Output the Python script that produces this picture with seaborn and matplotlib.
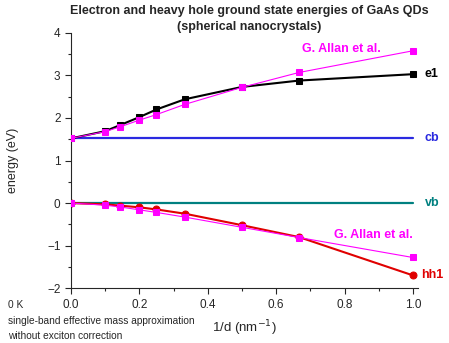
import numpy as np
import pandas as pd
import seaborn as sns
import matplotlib
matplotlib.use("Agg")
import matplotlib.pyplot as plt
from matplotlib.ticker import MultipleLocator

inv_d = [0.0, 0.1, 0.143, 0.2, 0.25, 0.333, 0.5, 0.667, 1.0]
e1 = [1.52, 1.69, 1.83, 2.02, 2.20, 2.44, 2.73, 2.88, 3.03]
allan_e = [1.52, 1.68, 1.79, 1.95, 2.08, 2.32, 2.72, 3.07, 3.58]
hh1 = [0.0, -0.03, -0.06, -0.10, -0.15, -0.25, -0.52, -0.80, -1.70]
allan_h = [0.0, -0.05, -0.09, -0.16, -0.22, -0.33, -0.57, -0.81, -1.28]
band_x = [0.0, 1.0]
cb = [1.52, 1.52]
vb = [0.0, 0.0]

sns.set_style("ticks")
plt.rcParams['font.family'] = ['Liberation Sans', 'DejaVu Sans']

fig = plt.figure(figsize=(4.49, 3.43), dpi=100)
ax = fig.add_axes([0.158, 0.16, 0.773, 0.744])

MAG = "#ff00ff"
sns.lineplot(x=band_x, y=cb, ax=ax, color="#2a2ae0", lw=1.6, zorder=1)
sns.lineplot(x=band_x, y=vb, ax=ax, color="#008080", lw=1.6, zorder=1)
sns.lineplot(x=inv_d, y=e1, ax=ax, color="black", lw=1.5, marker="s", ms=4.5,
             mec="black", zorder=2)
sns.lineplot(x=inv_d, y=hh1, ax=ax, color="#e00000", lw=1.5, marker="o", ms=5,
             mec="#e00000", zorder=2)
sns.lineplot(x=inv_d, y=allan_e, ax=ax, color=MAG, lw=0.8, marker="s", ms=4.5,
             mec=MAG, mfc=MAG, zorder=3)
sns.lineplot(x=inv_d, y=allan_h, ax=ax, color=MAG, lw=0.8, marker="s", ms=4.5,
             mec=MAG, mfc=MAG, zorder=3)

ax.set_xlim(-0.0, 1.015)
ax.set_ylim(-2, 4)
ax.xaxis.set_major_locator(MultipleLocator(0.2))
ax.xaxis.set_minor_locator(MultipleLocator(0.1))
ax.yaxis.set_major_locator(MultipleLocator(1))
ax.yaxis.set_minor_locator(MultipleLocator(0.5))
ax.xaxis.set_major_formatter(matplotlib.ticker.FormatStrFormatter('%.1f'))
ax.tick_params(which='major', length=4, width=0.8, labelsize=8.5, direction='out')
ax.tick_params(which='minor', length=2.5, width=0.8, direction='out')
sns.despine(ax=ax)
for s in ax.spines.values():
    s.set_linewidth(0.8)

ax.set_xlabel("1/d (nm$^{-1}$)", fontsize=9.5, labelpad=6)
ax.set_ylabel("energy (eV)", fontsize=9, labelpad=20)

fig.text(0.555, 0.985, "Electron and heavy hole ground state energies of GaAs QDs",
         ha='center', va='top', fontsize=9, fontweight='bold')
fig.text(0.555, 0.94, "(spherical nanocrystals)",
         ha='center', va='top', fontsize=9, fontweight='bold')

ax.text(0.905, 3.62, "G. Allan et al.", color=MAG, fontsize=9, fontweight='bold', ha='right', va='center')
ax.text(1.035, 3.03, "e1", color="black", fontsize=9, fontweight='bold', ha='left', va='center', clip_on=False)
ax.text(1.035, 1.52, "cb", color="#2a2ae0", fontsize=9, fontweight='bold', ha='left', va='center', clip_on=False)
ax.text(1.035, 0.0, "vb", color="#008080", fontsize=9, fontweight='bold', ha='left', va='center', clip_on=False)
ax.text(1.0, -0.75, "G. Allan et al.", color=MAG, fontsize=9, fontweight='bold', ha='right', va='center')
ax.text(1.023, -1.70, "hh1", color="#e00000", fontsize=9, fontweight='bold', ha='left', va='center', clip_on=False)

fig.text(0.018, 0.11, "0 K", fontsize=7.3, va='center')
fig.text(0.018, 0.065, "single-band effective mass approximation", fontsize=7.3, va='center')
fig.text(0.018, 0.02, "without exciton correction", fontsize=7.3, va='center')

fig.savefig("out.png", dpi=100)
